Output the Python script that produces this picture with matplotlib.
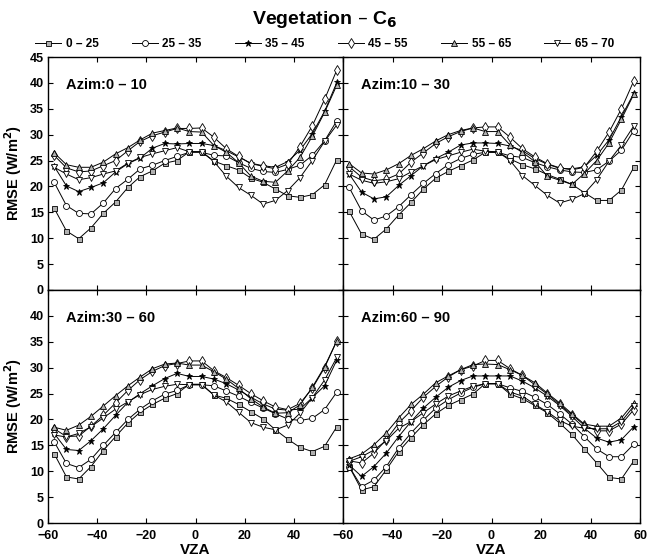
import numpy as np
import matplotlib
matplotlib.use("Agg")
import matplotlib.pyplot as plt

plt.rcParams['font.family'] = ['Liberation Sans', 'DejaVu Sans']
plt.rcParams['font.weight'] = 'bold'

# view zenith angle bin centres
vza = [-57.5, -52.5, -47.5, -42.5, -37.5, -32.5, -27.5, -22.5, -17.5, -12.5, -7.5, -2.5,
       2.5, 7.5, 12.5, 17.5, 22.5, 27.5, 32.5, 37.5, 42.5, 47.5, 52.5, 57.5]

groups = ["0 – 25", "25 – 35", "35 – 45", "45 – 55", "55 – 65", "65 – 70"]
panels = ["Azim:0 – 10", "Azim:10 – 30", "Azim:30 – 60", "Azim:60 – 90"]

# Azim 0-10
az1_g1 = [15.8, 11.4, 9.9, 12.0, 14.8, 17.0, 19.8, 21.9, 23.0, 24.5, 25.0, 26.7, 26.7, 24.9, 24.0, 23.2, 21.6, 20.8, 19.5, 18.2, 17.9, 18.4, 20.3, 25.2]
az1_g2 = [20.8, 16.3, 14.8, 14.7, 16.8, 19.6, 21.4, 23.4, 24.1, 25.0, 25.8, 26.6, 26.6, 26.0, 25.9, 24.6, 23.5, 22.9, 22.7, 23.3, 24.1, 26.0, 28.8, 32.7]
az1_g3 = [23.9, 20.1, 19.0, 19.8, 20.7, 22.8, 24.4, 25.5, 27.4, 28.3, 28.2, 28.3, 28.3, 27.9, 26.9, 25.7, 24.5, 24.0, 23.7, 24.8, 27.0, 30.2, 34.5, 40.1]
az1_g4 = [26.0, 23.6, 22.8, 23.0, 24.0, 25.0, 26.9, 28.7, 29.8, 30.5, 31.2, 31.2, 31.3, 29.5, 27.3, 25.8, 24.4, 23.9, 23.4, 24.3, 27.7, 31.7, 36.8, 42.5]
az1_g5 = [26.5, 24.2, 23.7, 23.7, 24.7, 26.3, 27.5, 29.0, 30.3, 30.8, 31.3, 30.6, 30.5, 27.9, 26.6, 24.6, 22.0, 21.0, 20.8, 23.0, 25.6, 29.7, 34.3, 39.6]
az1_g6 = [23.7, 22.4, 21.3, 21.7, 22.4, 23.0, 24.5, 25.6, 26.3, 26.9, 27.5, 26.7, 26.7, 24.8, 22.0, 19.8, 18.3, 16.6, 17.3, 19.2, 21.7, 25.0, 28.7, 31.9]

# Azim 10-30
az2_g1 = [15.2, 10.8, 9.8, 11.8, 14.5, 16.9, 19.5, 21.6, 22.9, 24.0, 25.1, 26.6, 26.6, 25.3, 24.2, 23.4, 22.3, 21.4, 20.4, 18.8, 17.3, 17.3, 19.3, 23.7]
az2_g2 = [19.8, 15.3, 13.5, 14.3, 16.1, 18.4, 20.6, 22.5, 24.2, 25.4, 26.2, 26.6, 26.6, 25.9, 25.6, 24.6, 23.8, 23.2, 22.8, 22.7, 23.2, 24.9, 27.0, 30.8]
az2_g3 = [22.4, 18.9, 17.6, 18.0, 20.2, 22.1, 24.0, 25.4, 26.6, 28.0, 28.4, 28.4, 28.3, 27.8, 26.9, 25.4, 24.3, 23.5, 23.4, 23.8, 26.0, 29.0, 33.5, 38.0]
az2_g4 = [23.8, 21.8, 21.1, 21.4, 22.4, 24.7, 26.5, 28.3, 29.6, 30.6, 31.3, 31.5, 31.5, 29.5, 27.3, 25.7, 24.4, 23.6, 23.2, 23.7, 26.8, 30.5, 35.0, 40.4]
az2_g5 = [24.4, 22.6, 22.4, 23.2, 24.4, 26.0, 27.3, 28.8, 30.0, 30.8, 31.3, 30.6, 30.6, 28.0, 26.6, 24.8, 22.0, 21.2, 20.4, 22.5, 25.0, 28.4, 33.0, 37.8]
az2_g6 = [22.4, 21.2, 20.6, 20.9, 21.5, 22.8, 24.0, 25.2, 25.9, 26.6, 27.2, 26.8, 26.7, 25.0, 22.1, 20.2, 18.3, 16.8, 17.5, 18.6, 21.3, 24.9, 28.0, 31.7]

# Azim 30-60
az3_g1 = [13.4, 8.9, 8.5, 10.9, 14.0, 16.7, 19.3, 21.4, 22.9, 24.1, 25.0, 26.8, 26.8, 24.7, 24.1, 22.9, 21.5, 20.1, 18.0, 16.2, 14.6, 13.8, 14.8, 18.6]
az3_g2 = [15.7, 11.5, 10.7, 12.3, 15.0, 17.5, 20.0, 22.0, 23.6, 24.9, 25.6, 26.7, 26.7, 26.5, 25.5, 24.5, 23.3, 22.2, 21.1, 20.1, 19.8, 20.2, 21.9, 25.3]
az3_g3 = [17.3, 14.2, 14.0, 15.9, 18.2, 20.8, 23.3, 25.0, 26.5, 27.9, 28.9, 28.3, 28.3, 27.8, 26.9, 25.7, 24.3, 23.0, 22.0, 21.8, 22.0, 24.2, 26.5, 31.5]
az3_g4 = [18.2, 16.7, 16.8, 18.7, 20.8, 23.2, 25.6, 27.7, 29.3, 30.4, 30.8, 31.3, 31.3, 29.4, 28.1, 26.6, 25.0, 23.6, 22.4, 21.9, 23.1, 26.0, 30.0, 35.2]
az3_g5 = [18.5, 17.9, 18.9, 20.6, 22.6, 24.6, 26.5, 28.2, 29.8, 30.7, 30.9, 30.5, 30.5, 29.2, 27.8, 26.0, 24.0, 22.4, 21.2, 21.3, 22.8, 26.2, 30.2, 35.2]
az3_g6 = [17.0, 16.6, 17.3, 18.6, 20.3, 22.0, 23.4, 24.8, 25.8, 26.4, 26.8, 26.7, 26.7, 24.7, 23.4, 21.4, 19.4, 18.5, 18.0, 18.9, 21.2, 24.2, 27.6, 32.0]

# Azim 60-90
az4_g1 = [10.9, 6.4, 7.0, 10.3, 13.8, 16.5, 19.0, 21.1, 22.7, 23.8, 24.9, 26.9, 26.9, 24.9, 24.0, 22.7, 21.3, 19.3, 17.1, 14.3, 11.6, 8.8, 8.5, 12.0]
az4_g2 = [10.9, 7.0, 8.3, 10.9, 14.5, 17.4, 19.9, 22.2, 23.8, 25.1, 26.2, 26.9, 26.9, 26.1, 25.4, 24.3, 22.9, 21.1, 19.1, 16.7, 14.3, 12.8, 12.8, 15.2]
az4_g3 = [11.2, 9.0, 10.9, 13.5, 16.7, 19.6, 22.2, 24.3, 26.2, 27.5, 28.4, 28.4, 28.4, 28.4, 27.4, 26.1, 24.5, 22.7, 20.6, 18.3, 16.4, 15.6, 16.1, 18.6]
az4_g4 = [12.0, 11.6, 13.5, 16.1, 19.3, 21.7, 24.3, 26.4, 28.2, 29.6, 30.3, 31.4, 31.4, 29.8, 28.5, 26.7, 24.9, 22.9, 20.9, 18.9, 17.8, 17.8, 19.1, 21.9]
az4_g5 = [12.4, 13.3, 15.1, 17.4, 20.3, 22.9, 24.9, 27.1, 28.4, 29.6, 30.6, 30.7, 30.6, 29.6, 28.5, 27.1, 25.1, 23.2, 21.1, 19.1, 18.7, 18.7, 20.3, 23.2]
az4_g6 = [11.9, 12.8, 14.1, 15.9, 18.3, 19.6, 21.3, 23.0, 24.5, 25.5, 26.4, 26.9, 26.9, 25.3, 24.5, 22.9, 21.5, 19.8, 18.7, 18.3, 18.2, 18.2, 19.6, 22.6]

series = [
    [az1_g1, az1_g2, az1_g3, az1_g4, az1_g5, az1_g6],
    [az2_g1, az2_g2, az2_g3, az2_g4, az2_g5, az2_g6],
    [az3_g1, az3_g2, az3_g3, az3_g4, az3_g5, az3_g6],
    [az4_g1, az4_g2, az4_g3, az4_g4, az4_g5, az4_g6],
]

markers = ['s', 'o', '*', 'd', '^', 'v']
msizes = [3.6, 4.3, 4.5, 4.8, 4.5, 4.5]
faces = ['#b0b0b0', 'white', 'black', 'white', '#b0b0b0', 'white']

fig = plt.figure(figsize=(6.49, 5.56), dpi=100)

W, H = 649, 556
boxes = [(48, 57, 343, 290), (343, 57, 640, 290),
         (48, 290, 343, 523), (343, 290, 640, 523)]

lines = []
for i, (x0, y0, x1, y1) in enumerate(boxes):
    ax = fig.add_axes([x0 / W, 1 - y1 / H, (x1 - x0) / W, (y1 - y0) / H])
    for j in range(6):
        ln, = ax.plot(vza, series[i][j], color='black', lw=0.7,
                      marker=markers[j], ms=msizes[j],
                      mfc=faces[j], mec='black', mew=0.6)
        if i == 0:
            lines.append(ln)
    ax.set_xlim(-60, 60)
    ax.set_ylim(0, 45)
    ax.set_xticks(range(-60, 61, 20))
    ax.set_yticks(range(0, 46, 5))
    ax.tick_params(direction='in', top=True, right=True, length=3.5, width=0.8,
                   labelsize=9)
    ax.tick_params(axis='x', pad=5)
    ax.tick_params(axis='y', pad=3)
    for s in ax.spines.values():
        s.set_linewidth(1.0)
    ax.text(0.06, 0.91, panels[i], transform=ax.transAxes, fontsize=10.5,
            fontweight='bold', va='top', ha='left')

    if i in (0, 2):
        ax.set_ylabel("RMSE (W/m$^\\mathbf{2}$)", fontsize=10.5, fontweight='bold', labelpad=4)
    else:
        ax.set_yticklabels([])
    if i in (2, 3):
        ax.set_xlabel("VZA", fontsize=11, fontweight='bold', labelpad=1)
    else:
        ax.set_xticklabels([])
    if i == 2:
        ax.set_yticklabels([str(v) if v < 45 else '' for v in range(0, 46, 5)])
        ax.set_xticklabels(['−60', '−40', '−20', '0', '20', '40', ''])
    for lab in ax.get_xticklabels() + ax.get_yticklabels():
        lab.set_fontweight('bold')

fig.text(0.5, 0.965, "Vegetation – C$_\\mathbf{6}$", ha='center', va='center',
         fontsize=14, fontweight='bold')
fig.legend(lines, groups, loc='center', bbox_to_anchor=(0.5, 1 - 44 / H), ncol=6,
           frameon=False, handlelength=2.2, columnspacing=2.8,
           handletextpad=0.4, prop={'weight': 'bold', 'size': 8.5})

fig.savefig("out.png", dpi=100)
